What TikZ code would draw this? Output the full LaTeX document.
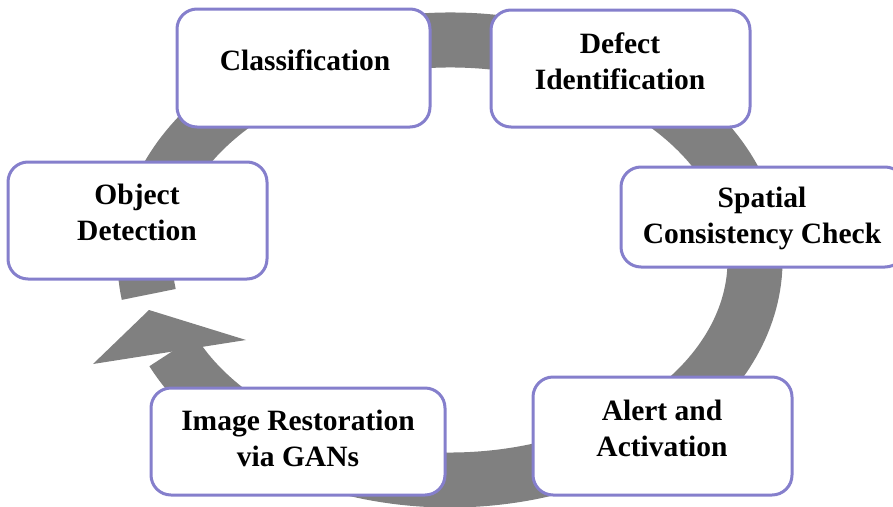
\documentclass[tikz,border=0pt]{standalone}
\usepackage{fontspec}
\setmainfont{Liberation Serif}
\definecolor{boxline}{RGB}{133,127,204}
\definecolor{ringgray}{RGB}{128,128,128}
\tikzset{
  box/.style={draw=boxline, line width=3pt, fill=white, rounded corners=20pt, inner sep=0pt},
  lbl/.style={align=center, font=\fontsize{29.5}{36}\selectfont\bfseries, inner sep=0pt},
  ring/.style={draw=ringgray, line width=55pt},
  head/.style={fill=ringgray}
}
\begin{document}
\begin{tikzpicture}[x=1pt,y=-1pt]
\useasboundingbox (0,0) rectangle (893,506);
% ring centre
\coordinate (c) at (450,260);
\draw[ring] (c) ++(189:305pt and 220pt) arc[start angle=189, end angle=-155.5, x radius=305pt, y radius=220pt];
\coordinate (hl) at (93,364);
\coordinate (ht) at (149,310);
\coordinate (hr) at (246,340);
\fill[head] (hl) -- (ht) -- (hr) -- cycle;
% boxes
\node[box, minimum width=253pt, minimum height=118pt] (cls) at (303.5,68) {};
\node[box, minimum width=259pt, minimum height=117pt] (def) at (620.5,68.5) {};
\node[box, minimum width=284pt, minimum height=100pt] (spa) at (763,217) {};
\node[box, minimum width=259pt, minimum height=117pt] (obj) at (137.5,220.5) {};
\node[box, minimum width=259pt, minimum height=118pt] (alr) at (662.5,436) {};
\node[box, minimum width=294pt, minimum height=107pt] (img) at (298,441.5) {};
% labels
\node[lbl] (tcls) at (305,60) {Classification};
\node[lbl] (tdef) at (620,61.5) {Defect\\Identification};
\node[lbl] (tspa) at (762,218) {Spatial\\Consistency Check};
\node[lbl] (tobj) at (137,212.5) {Object\\Detection};
\node[lbl] (talr) at (662,428) {Alert and\\Activation};
\node[lbl] (timg) at (298,438) {Image Restoration\\via GANs};
\end{tikzpicture}
\end{document}
